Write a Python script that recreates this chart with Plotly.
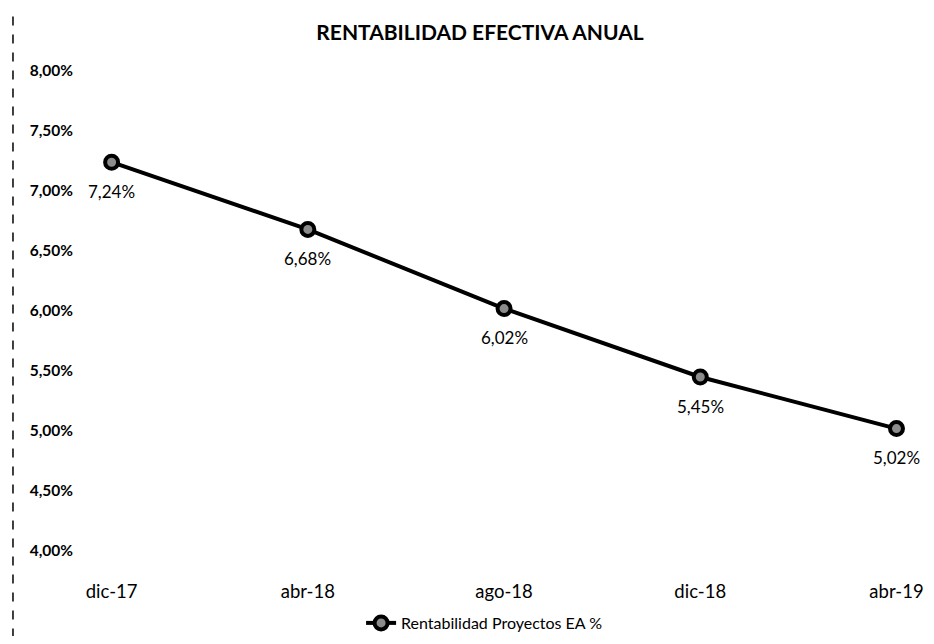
import plotly.graph_objects as go

# data
periods = ["dic-17", "abr-18", "ago-18", "dic-18", "abr-19"]
rentabilidad = [0.0724, 0.0668, 0.0602, 0.0545, 0.0502]
y_ticks = [0.04, 0.045, 0.05, 0.055, 0.06, 0.065, 0.07, 0.075, 0.08]

font_family = "Lato, Open Sans, sans-serif"

fig = go.Figure()

fig.add_trace(go.Scatter(
    x=periods,
    y=rentabilidad,
    mode="lines+markers",
    name="Rentabilidad Proyectos EA %",
    line={"color": "black", "width": 4},
    marker={"size": 13, "color": "#8c8c8c", "line": {"color": "black", "width": 4}},
    cliponaxis=False,
))

# data labels under each point
for p, v in zip(periods, rentabilidad):
    fig.add_annotation(
        x=p, y=v, text="{:.2f}%".format(v * 100).replace(".", ","),
        showarrow=False, yshift=-29,
        font={"family": font_family, "size": 17, "color": "black"},
    )

# dashed scan edge on the left side
fig.add_shape(type="line", xref="paper", yref="paper",
              x0=-0.0952, x1=-0.0952, y0=-0.18, y1=1.14,
              line={"color": "black", "width": 1.5, "dash": "dash"})

fig.update_layout(
    width=918,
    height=628,
    separators=",.",
    paper_bgcolor="white",
    plot_bgcolor="white",
    margin={"l": 84, "r": 4, "t": 63, "b": 85, "autoexpand": False},
    title={
        "text": "<b>RENTABILIDAD EFECTIVA ANUAL</b>",
        "x": 472 / 918, "xanchor": "center",
        "y": 1 - 25 / 628, "yanchor": "middle",
        "font": {"family": font_family, "size": 21, "color": "black"},
    },
    xaxis={
        "type": "category",
        "range": [-0.1, 4.13],
        "automargin": False,
        "showgrid": False,
        "showline": False,
        "zeroline": False,
        "ticks": "",
        "ticklabelstandoff": 27,
        "tickfont": {"family": font_family, "size": 18.5, "color": "black"},
    },
    yaxis={
        "range": [0.04, 0.08],
        "tickvals": y_ticks,
        "tickformat": ".2%",
        "automargin": False,
        "showgrid": False,
        "showline": False,
        "zeroline": False,
        "ticks": "",
        "ticklabelstandoff": 18,
        "tickfont": {"family": font_family, "size": 15.5, "color": "black", "weight": "bold"},
    },
    showlegend=True,
    legend={
        "orientation": "h",
        "x": 0.473, "xanchor": "center",
        "yref": "container",
        "y": 1 - 615 / 628, "yanchor": "middle",
        "font": {"family": font_family, "size": 16, "color": "black"},
    },
)

fig.write_html("out.html")
